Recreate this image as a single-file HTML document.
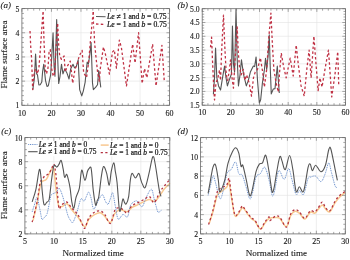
<!DOCTYPE html>
<html><head><meta charset="utf-8"><style>
html,body{margin:0;padding:0;background:#fff;width:350px;height:260px;overflow:hidden}
svg{display:block;will-change:transform;filter:blur(0.3px)}
text{font-family:"Liberation Serif", serif;fill:#1a1a1a;stroke:#1a1a1a;stroke-width:0.12px}
</style></head><body>
<svg width="350" height="260" viewBox="0 0 350 260">
<line x1="51.44" y1="8.6" x2="51.44" y2="105.3" stroke="#e2e2e2" stroke-width="0.6"/>
<line x1="80.98" y1="8.6" x2="80.98" y2="105.3" stroke="#e2e2e2" stroke-width="0.6"/>
<line x1="110.52" y1="8.6" x2="110.52" y2="105.3" stroke="#e2e2e2" stroke-width="0.6"/>
<line x1="140.06" y1="8.6" x2="140.06" y2="105.3" stroke="#e2e2e2" stroke-width="0.6"/>
<line x1="21.9" y1="81.12" x2="169.6" y2="81.12" stroke="#e2e2e2" stroke-width="0.6"/>
<line x1="21.9" y1="56.95" x2="169.6" y2="56.95" stroke="#e2e2e2" stroke-width="0.6"/>
<line x1="21.9" y1="32.77" x2="169.6" y2="32.77" stroke="#e2e2e2" stroke-width="0.6"/>
<polyline points="32.83,89.59 34.45,77.74 35.58,54.05 36.67,73.87 37.47,74.84 38.89,84.99 40.21,84.75 41.78,82.09 42.58,71.94 43.76,64.20 45.53,80.64 47.01,86.44 48.34,85.72 50.64,74.84 51.74,56.95 53.06,32.77 54.10,66.62 54.98,76.29 56.67,19.48 57.64,56.95 58.68,83.54 60.01,76.29 61.48,64.20 62.96,73.87 64.73,69.04 66.80,72.66 69.02,78.95 70.64,69.04 73.00,64.20 74.48,67.83 76.25,66.62 78.17,59.85 79.65,89.59 81.78,95.87 83.34,90.79 85.12,82.33 87.18,62.03 88.37,64.20 89.84,54.53 91.11,42.44 92.50,83.06 93.39,89.59 95.75,87.17 97.52,84.75 98.70,70.49 100.77,87.41" fill="none" stroke="#555555" stroke-width="1.1" stroke-linejoin="round"/>
<polyline points="30.02,31.08 30.76,47.28 31.65,59.37 32.68,89.59 34.01,73.87 35.49,69.04 37.56,73.87 39.03,66.62 40.51,47.28 41.99,25.52 43.11,11.02 44.05,42.44 45.24,69.04 46.42,73.87 47.90,69.04 49.08,52.11 50.26,49.70 51.74,69.04 53.21,76.29 54.39,73.87 56.17,47.28 57.64,23.10 58.68,44.86 59.71,55.98 61.48,59.37 64.14,55.98 65.21,71.94 67.10,66.62 70.23,61.06 72.71,83.30 75.07,69.04 77.14,64.20 79.21,55.98 82.16,50.42 83.64,72.91 86.59,77.50 88.66,61.79 90.73,37.61 93.24,11.02 94.57,42.44 95.75,55.02 97.52,71.45 99.29,81.12 100.36,68.07 103.43,47.04 105.41,54.05 109.43,74.11 112.44,52.11 114.36,49.94 116.43,68.07 119.38,40.03 121.45,48.01 126.47,85.96 132.67,44.14 135.04,62.99 138.58,32.77 142.13,83.54 144.49,68.55 146.85,77.74 152.61,44.14 156.01,85.96 161.92,45.35 164.28,81.12" fill="none" stroke="#c03245" stroke-width="1.3" stroke-dasharray="2.5 2.3" stroke-linejoin="round"/>

<rect x="94.2" y="9.2" width="75" height="20" fill="#fff"/>
<line x1="96" y1="16.5" x2="105.6" y2="16.7" stroke="#555555" stroke-width="1.1"/>
<text x="107" y="19.2" font-size="7.65" style="stroke-width:0.24px"><tspan font-style="italic">Le</tspan> ≠ 1 and <tspan font-style="italic">b</tspan> = 0.75</text>
<line x1="96" y1="24" x2="105.6" y2="24.5" stroke="#c03245" stroke-width="1.3" stroke-dasharray="2.5 2.3"/>
<text x="107" y="26.9" font-size="7.65" style="stroke-width:0.24px"><tspan font-style="italic">Le</tspan> = 1 and <tspan font-style="italic">b</tspan> = 0.75</text>

<line x1="21.90" y1="105.3" x2="21.90" y2="102.1" stroke="#6a6a6a" stroke-width="0.6"/>
<line x1="21.90" y1="8.6" x2="21.90" y2="11.8" stroke="#6a6a6a" stroke-width="0.6"/>
<line x1="27.81" y1="105.3" x2="27.81" y2="103.3" stroke="#6a6a6a" stroke-width="0.6"/>
<line x1="27.81" y1="8.6" x2="27.81" y2="10.6" stroke="#6a6a6a" stroke-width="0.6"/>
<line x1="33.72" y1="105.3" x2="33.72" y2="103.3" stroke="#6a6a6a" stroke-width="0.6"/>
<line x1="33.72" y1="8.6" x2="33.72" y2="10.6" stroke="#6a6a6a" stroke-width="0.6"/>
<line x1="39.62" y1="105.3" x2="39.62" y2="103.3" stroke="#6a6a6a" stroke-width="0.6"/>
<line x1="39.62" y1="8.6" x2="39.62" y2="10.6" stroke="#6a6a6a" stroke-width="0.6"/>
<line x1="45.53" y1="105.3" x2="45.53" y2="103.3" stroke="#6a6a6a" stroke-width="0.6"/>
<line x1="45.53" y1="8.6" x2="45.53" y2="10.6" stroke="#6a6a6a" stroke-width="0.6"/>
<line x1="51.44" y1="105.3" x2="51.44" y2="102.1" stroke="#6a6a6a" stroke-width="0.6"/>
<line x1="51.44" y1="8.6" x2="51.44" y2="11.8" stroke="#6a6a6a" stroke-width="0.6"/>
<line x1="57.35" y1="105.3" x2="57.35" y2="103.3" stroke="#6a6a6a" stroke-width="0.6"/>
<line x1="57.35" y1="8.6" x2="57.35" y2="10.6" stroke="#6a6a6a" stroke-width="0.6"/>
<line x1="63.26" y1="105.3" x2="63.26" y2="103.3" stroke="#6a6a6a" stroke-width="0.6"/>
<line x1="63.26" y1="8.6" x2="63.26" y2="10.6" stroke="#6a6a6a" stroke-width="0.6"/>
<line x1="69.16" y1="105.3" x2="69.16" y2="103.3" stroke="#6a6a6a" stroke-width="0.6"/>
<line x1="69.16" y1="8.6" x2="69.16" y2="10.6" stroke="#6a6a6a" stroke-width="0.6"/>
<line x1="75.07" y1="105.3" x2="75.07" y2="103.3" stroke="#6a6a6a" stroke-width="0.6"/>
<line x1="75.07" y1="8.6" x2="75.07" y2="10.6" stroke="#6a6a6a" stroke-width="0.6"/>
<line x1="80.98" y1="105.3" x2="80.98" y2="102.1" stroke="#6a6a6a" stroke-width="0.6"/>
<line x1="80.98" y1="8.6" x2="80.98" y2="11.8" stroke="#6a6a6a" stroke-width="0.6"/>
<line x1="86.89" y1="105.3" x2="86.89" y2="103.3" stroke="#6a6a6a" stroke-width="0.6"/>
<line x1="86.89" y1="8.6" x2="86.89" y2="10.6" stroke="#6a6a6a" stroke-width="0.6"/>
<line x1="92.80" y1="105.3" x2="92.80" y2="103.3" stroke="#6a6a6a" stroke-width="0.6"/>
<line x1="92.80" y1="8.6" x2="92.80" y2="10.6" stroke="#6a6a6a" stroke-width="0.6"/>
<line x1="98.70" y1="105.3" x2="98.70" y2="103.3" stroke="#6a6a6a" stroke-width="0.6"/>
<line x1="98.70" y1="8.6" x2="98.70" y2="10.6" stroke="#6a6a6a" stroke-width="0.6"/>
<line x1="104.61" y1="105.3" x2="104.61" y2="103.3" stroke="#6a6a6a" stroke-width="0.6"/>
<line x1="104.61" y1="8.6" x2="104.61" y2="10.6" stroke="#6a6a6a" stroke-width="0.6"/>
<line x1="110.52" y1="105.3" x2="110.52" y2="102.1" stroke="#6a6a6a" stroke-width="0.6"/>
<line x1="110.52" y1="8.6" x2="110.52" y2="11.8" stroke="#6a6a6a" stroke-width="0.6"/>
<line x1="116.43" y1="105.3" x2="116.43" y2="103.3" stroke="#6a6a6a" stroke-width="0.6"/>
<line x1="116.43" y1="8.6" x2="116.43" y2="10.6" stroke="#6a6a6a" stroke-width="0.6"/>
<line x1="122.34" y1="105.3" x2="122.34" y2="103.3" stroke="#6a6a6a" stroke-width="0.6"/>
<line x1="122.34" y1="8.6" x2="122.34" y2="10.6" stroke="#6a6a6a" stroke-width="0.6"/>
<line x1="128.24" y1="105.3" x2="128.24" y2="103.3" stroke="#6a6a6a" stroke-width="0.6"/>
<line x1="128.24" y1="8.6" x2="128.24" y2="10.6" stroke="#6a6a6a" stroke-width="0.6"/>
<line x1="134.15" y1="105.3" x2="134.15" y2="103.3" stroke="#6a6a6a" stroke-width="0.6"/>
<line x1="134.15" y1="8.6" x2="134.15" y2="10.6" stroke="#6a6a6a" stroke-width="0.6"/>
<line x1="140.06" y1="105.3" x2="140.06" y2="102.1" stroke="#6a6a6a" stroke-width="0.6"/>
<line x1="140.06" y1="8.6" x2="140.06" y2="11.8" stroke="#6a6a6a" stroke-width="0.6"/>
<line x1="145.97" y1="105.3" x2="145.97" y2="103.3" stroke="#6a6a6a" stroke-width="0.6"/>
<line x1="145.97" y1="8.6" x2="145.97" y2="10.6" stroke="#6a6a6a" stroke-width="0.6"/>
<line x1="151.88" y1="105.3" x2="151.88" y2="103.3" stroke="#6a6a6a" stroke-width="0.6"/>
<line x1="151.88" y1="8.6" x2="151.88" y2="10.6" stroke="#6a6a6a" stroke-width="0.6"/>
<line x1="157.78" y1="105.3" x2="157.78" y2="103.3" stroke="#6a6a6a" stroke-width="0.6"/>
<line x1="157.78" y1="8.6" x2="157.78" y2="10.6" stroke="#6a6a6a" stroke-width="0.6"/>
<line x1="163.69" y1="105.3" x2="163.69" y2="103.3" stroke="#6a6a6a" stroke-width="0.6"/>
<line x1="163.69" y1="8.6" x2="163.69" y2="10.6" stroke="#6a6a6a" stroke-width="0.6"/>
<line x1="169.60" y1="105.3" x2="169.60" y2="102.1" stroke="#6a6a6a" stroke-width="0.6"/>
<line x1="169.60" y1="8.6" x2="169.60" y2="11.8" stroke="#6a6a6a" stroke-width="0.6"/>
<line x1="21.9" y1="105.30" x2="25.099999999999998" y2="105.30" stroke="#6a6a6a" stroke-width="0.6"/>
<line x1="169.6" y1="105.30" x2="166.4" y2="105.30" stroke="#6a6a6a" stroke-width="0.6"/>
<line x1="21.9" y1="100.47" x2="23.9" y2="100.47" stroke="#6a6a6a" stroke-width="0.6"/>
<line x1="169.6" y1="100.47" x2="167.6" y2="100.47" stroke="#6a6a6a" stroke-width="0.6"/>
<line x1="21.9" y1="95.63" x2="23.9" y2="95.63" stroke="#6a6a6a" stroke-width="0.6"/>
<line x1="169.6" y1="95.63" x2="167.6" y2="95.63" stroke="#6a6a6a" stroke-width="0.6"/>
<line x1="21.9" y1="90.79" x2="23.9" y2="90.79" stroke="#6a6a6a" stroke-width="0.6"/>
<line x1="169.6" y1="90.79" x2="167.6" y2="90.79" stroke="#6a6a6a" stroke-width="0.6"/>
<line x1="21.9" y1="85.96" x2="23.9" y2="85.96" stroke="#6a6a6a" stroke-width="0.6"/>
<line x1="169.6" y1="85.96" x2="167.6" y2="85.96" stroke="#6a6a6a" stroke-width="0.6"/>
<line x1="21.9" y1="81.12" x2="25.099999999999998" y2="81.12" stroke="#6a6a6a" stroke-width="0.6"/>
<line x1="169.6" y1="81.12" x2="166.4" y2="81.12" stroke="#6a6a6a" stroke-width="0.6"/>
<line x1="21.9" y1="76.29" x2="23.9" y2="76.29" stroke="#6a6a6a" stroke-width="0.6"/>
<line x1="169.6" y1="76.29" x2="167.6" y2="76.29" stroke="#6a6a6a" stroke-width="0.6"/>
<line x1="21.9" y1="71.45" x2="23.9" y2="71.45" stroke="#6a6a6a" stroke-width="0.6"/>
<line x1="169.6" y1="71.45" x2="167.6" y2="71.45" stroke="#6a6a6a" stroke-width="0.6"/>
<line x1="21.9" y1="66.62" x2="23.9" y2="66.62" stroke="#6a6a6a" stroke-width="0.6"/>
<line x1="169.6" y1="66.62" x2="167.6" y2="66.62" stroke="#6a6a6a" stroke-width="0.6"/>
<line x1="21.9" y1="61.79" x2="23.9" y2="61.79" stroke="#6a6a6a" stroke-width="0.6"/>
<line x1="169.6" y1="61.79" x2="167.6" y2="61.79" stroke="#6a6a6a" stroke-width="0.6"/>
<line x1="21.9" y1="56.95" x2="25.099999999999998" y2="56.95" stroke="#6a6a6a" stroke-width="0.6"/>
<line x1="169.6" y1="56.95" x2="166.4" y2="56.95" stroke="#6a6a6a" stroke-width="0.6"/>
<line x1="21.9" y1="52.11" x2="23.9" y2="52.11" stroke="#6a6a6a" stroke-width="0.6"/>
<line x1="169.6" y1="52.11" x2="167.6" y2="52.11" stroke="#6a6a6a" stroke-width="0.6"/>
<line x1="21.9" y1="47.28" x2="23.9" y2="47.28" stroke="#6a6a6a" stroke-width="0.6"/>
<line x1="169.6" y1="47.28" x2="167.6" y2="47.28" stroke="#6a6a6a" stroke-width="0.6"/>
<line x1="21.9" y1="42.44" x2="23.9" y2="42.44" stroke="#6a6a6a" stroke-width="0.6"/>
<line x1="169.6" y1="42.44" x2="167.6" y2="42.44" stroke="#6a6a6a" stroke-width="0.6"/>
<line x1="21.9" y1="37.61" x2="23.9" y2="37.61" stroke="#6a6a6a" stroke-width="0.6"/>
<line x1="169.6" y1="37.61" x2="167.6" y2="37.61" stroke="#6a6a6a" stroke-width="0.6"/>
<line x1="21.9" y1="32.77" x2="25.099999999999998" y2="32.77" stroke="#6a6a6a" stroke-width="0.6"/>
<line x1="169.6" y1="32.77" x2="166.4" y2="32.77" stroke="#6a6a6a" stroke-width="0.6"/>
<line x1="21.9" y1="27.94" x2="23.9" y2="27.94" stroke="#6a6a6a" stroke-width="0.6"/>
<line x1="169.6" y1="27.94" x2="167.6" y2="27.94" stroke="#6a6a6a" stroke-width="0.6"/>
<line x1="21.9" y1="23.10" x2="23.9" y2="23.10" stroke="#6a6a6a" stroke-width="0.6"/>
<line x1="169.6" y1="23.10" x2="167.6" y2="23.10" stroke="#6a6a6a" stroke-width="0.6"/>
<line x1="21.9" y1="18.27" x2="23.9" y2="18.27" stroke="#6a6a6a" stroke-width="0.6"/>
<line x1="169.6" y1="18.27" x2="167.6" y2="18.27" stroke="#6a6a6a" stroke-width="0.6"/>
<line x1="21.9" y1="13.43" x2="23.9" y2="13.43" stroke="#6a6a6a" stroke-width="0.6"/>
<line x1="169.6" y1="13.43" x2="167.6" y2="13.43" stroke="#6a6a6a" stroke-width="0.6"/>
<line x1="21.9" y1="8.60" x2="25.099999999999998" y2="8.60" stroke="#6a6a6a" stroke-width="0.6"/>
<line x1="169.6" y1="8.60" x2="166.4" y2="8.60" stroke="#6a6a6a" stroke-width="0.6"/>
<rect x="21.9" y="8.6" width="147.70" height="96.70" fill="none" stroke="#6a6a6a" stroke-width="0.8"/>
<text x="21.90" y="115.50" text-anchor="middle" font-size="8.0">10</text>
<text x="51.44" y="115.50" text-anchor="middle" font-size="8.0">20</text>
<text x="80.98" y="115.50" text-anchor="middle" font-size="8.0">30</text>
<text x="110.52" y="115.50" text-anchor="middle" font-size="8.0">40</text>
<text x="140.06" y="115.50" text-anchor="middle" font-size="8.0">50</text>
<text x="169.60" y="115.50" text-anchor="middle" font-size="8.0">60</text>
<text x="19.40" y="108.20" text-anchor="end" font-size="7.7">1</text>
<text x="19.40" y="84.03" text-anchor="end" font-size="7.7">2</text>
<text x="19.40" y="59.85" text-anchor="end" font-size="7.7">3</text>
<text x="19.40" y="35.67" text-anchor="end" font-size="7.7">4</text>
<text x="19.40" y="11.50" text-anchor="end" font-size="7.7">5</text>
<line x1="230.86" y1="8.7" x2="230.86" y2="105.2" stroke="#e2e2e2" stroke-width="0.6"/>
<line x1="259.52" y1="8.7" x2="259.52" y2="105.2" stroke="#e2e2e2" stroke-width="0.6"/>
<line x1="288.18" y1="8.7" x2="288.18" y2="105.2" stroke="#e2e2e2" stroke-width="0.6"/>
<line x1="316.84" y1="8.7" x2="316.84" y2="105.2" stroke="#e2e2e2" stroke-width="0.6"/>
<line x1="202.2" y1="91.41" x2="345.5" y2="91.41" stroke="#e2e2e2" stroke-width="0.6"/>
<line x1="202.2" y1="77.63" x2="345.5" y2="77.63" stroke="#e2e2e2" stroke-width="0.6"/>
<line x1="202.2" y1="63.84" x2="345.5" y2="63.84" stroke="#e2e2e2" stroke-width="0.6"/>
<line x1="202.2" y1="50.06" x2="345.5" y2="50.06" stroke="#e2e2e2" stroke-width="0.6"/>
<line x1="202.2" y1="36.27" x2="345.5" y2="36.27" stroke="#e2e2e2" stroke-width="0.6"/>
<line x1="202.2" y1="22.49" x2="345.5" y2="22.49" stroke="#e2e2e2" stroke-width="0.6"/>
<polyline points="213.38,94.17 214.52,77.63 215.56,48.13 216.82,77.63 218.54,85.90 220.54,90.04 222.55,77.63 224.55,66.05 225.99,77.63 227.42,85.90 229.14,80.39 231.43,74.04 232.46,26.07 233.44,63.84 234.59,72.11 236.02,8.98 237.17,58.33 238.45,85.90 240.03,74.87 241.46,59.71 243.47,74.04 246.34,85.90 248.34,80.39 250.35,72.11 253.36,66.05 254.65,66.60 256.08,56.95 257.51,80.39 259.35,102.99 260.67,99.69 262.39,83.14 264.39,69.91 265.54,58.33 266.69,69.36 268.12,55.57 269.26,34.89 270.12,63.84 271.27,93.90 273.28,88.93 275.00,88.66 277.29,66.05 279.30,93.07" fill="none" stroke="#555555" stroke-width="1.1" stroke-linejoin="round"/>
<polyline points="210.51,47.30 211.57,37.10 212.52,61.09 213.66,85.90 214.52,99.96 215.96,83.14 217.96,77.63 219.54,69.91 220.54,80.39 221.69,50.06 223.49,15.04 224.84,47.30 226.27,74.87 227.71,80.39 229.43,69.36 230.49,59.98 232.01,77.63 233.44,88.11 235.16,58.33 237.17,26.90 238.31,52.81 239.46,66.60 241.18,74.87 243.18,69.36 244.90,80.39 246.62,74.87 249.20,83.14 251.50,96.10 253.50,77.63 255.22,72.11 257.51,69.36 260.38,57.78 262.67,72.11 264.39,87.00 266.69,69.36 268.69,39.03 270.90,13.11 272.42,44.54 273.85,69.36 276.14,83.14 278.29,91.97 279.58,72.11 281.30,53.09 283.59,66.60 286.17,77.90 290.19,58.05 293.20,75.97 296.20,45.09 298.21,63.84 301.08,85.90 304.23,96.10 306.81,69.36 309.10,50.06 311.11,77.90 313.89,36.27 315.98,63.84 318.13,90.59 319.99,77.90 322.00,87.00 325.44,66.60 328.48,50.06 331.74,96.93 334.90,74.87 337.76,51.71 338.76,85.90" fill="none" stroke="#c03245" stroke-width="1.3" stroke-dasharray="2.5 2.3" stroke-linejoin="round"/>

<line x1="202.20" y1="105.2" x2="202.20" y2="102.0" stroke="#6a6a6a" stroke-width="0.6"/>
<line x1="202.20" y1="8.7" x2="202.20" y2="11.899999999999999" stroke="#6a6a6a" stroke-width="0.6"/>
<line x1="207.93" y1="105.2" x2="207.93" y2="103.2" stroke="#6a6a6a" stroke-width="0.6"/>
<line x1="207.93" y1="8.7" x2="207.93" y2="10.7" stroke="#6a6a6a" stroke-width="0.6"/>
<line x1="213.66" y1="105.2" x2="213.66" y2="103.2" stroke="#6a6a6a" stroke-width="0.6"/>
<line x1="213.66" y1="8.7" x2="213.66" y2="10.7" stroke="#6a6a6a" stroke-width="0.6"/>
<line x1="219.40" y1="105.2" x2="219.40" y2="103.2" stroke="#6a6a6a" stroke-width="0.6"/>
<line x1="219.40" y1="8.7" x2="219.40" y2="10.7" stroke="#6a6a6a" stroke-width="0.6"/>
<line x1="225.13" y1="105.2" x2="225.13" y2="103.2" stroke="#6a6a6a" stroke-width="0.6"/>
<line x1="225.13" y1="8.7" x2="225.13" y2="10.7" stroke="#6a6a6a" stroke-width="0.6"/>
<line x1="230.86" y1="105.2" x2="230.86" y2="102.0" stroke="#6a6a6a" stroke-width="0.6"/>
<line x1="230.86" y1="8.7" x2="230.86" y2="11.899999999999999" stroke="#6a6a6a" stroke-width="0.6"/>
<line x1="236.59" y1="105.2" x2="236.59" y2="103.2" stroke="#6a6a6a" stroke-width="0.6"/>
<line x1="236.59" y1="8.7" x2="236.59" y2="10.7" stroke="#6a6a6a" stroke-width="0.6"/>
<line x1="242.32" y1="105.2" x2="242.32" y2="103.2" stroke="#6a6a6a" stroke-width="0.6"/>
<line x1="242.32" y1="8.7" x2="242.32" y2="10.7" stroke="#6a6a6a" stroke-width="0.6"/>
<line x1="248.06" y1="105.2" x2="248.06" y2="103.2" stroke="#6a6a6a" stroke-width="0.6"/>
<line x1="248.06" y1="8.7" x2="248.06" y2="10.7" stroke="#6a6a6a" stroke-width="0.6"/>
<line x1="253.79" y1="105.2" x2="253.79" y2="103.2" stroke="#6a6a6a" stroke-width="0.6"/>
<line x1="253.79" y1="8.7" x2="253.79" y2="10.7" stroke="#6a6a6a" stroke-width="0.6"/>
<line x1="259.52" y1="105.2" x2="259.52" y2="102.0" stroke="#6a6a6a" stroke-width="0.6"/>
<line x1="259.52" y1="8.7" x2="259.52" y2="11.899999999999999" stroke="#6a6a6a" stroke-width="0.6"/>
<line x1="265.25" y1="105.2" x2="265.25" y2="103.2" stroke="#6a6a6a" stroke-width="0.6"/>
<line x1="265.25" y1="8.7" x2="265.25" y2="10.7" stroke="#6a6a6a" stroke-width="0.6"/>
<line x1="270.98" y1="105.2" x2="270.98" y2="103.2" stroke="#6a6a6a" stroke-width="0.6"/>
<line x1="270.98" y1="8.7" x2="270.98" y2="10.7" stroke="#6a6a6a" stroke-width="0.6"/>
<line x1="276.72" y1="105.2" x2="276.72" y2="103.2" stroke="#6a6a6a" stroke-width="0.6"/>
<line x1="276.72" y1="8.7" x2="276.72" y2="10.7" stroke="#6a6a6a" stroke-width="0.6"/>
<line x1="282.45" y1="105.2" x2="282.45" y2="103.2" stroke="#6a6a6a" stroke-width="0.6"/>
<line x1="282.45" y1="8.7" x2="282.45" y2="10.7" stroke="#6a6a6a" stroke-width="0.6"/>
<line x1="288.18" y1="105.2" x2="288.18" y2="102.0" stroke="#6a6a6a" stroke-width="0.6"/>
<line x1="288.18" y1="8.7" x2="288.18" y2="11.899999999999999" stroke="#6a6a6a" stroke-width="0.6"/>
<line x1="293.91" y1="105.2" x2="293.91" y2="103.2" stroke="#6a6a6a" stroke-width="0.6"/>
<line x1="293.91" y1="8.7" x2="293.91" y2="10.7" stroke="#6a6a6a" stroke-width="0.6"/>
<line x1="299.64" y1="105.2" x2="299.64" y2="103.2" stroke="#6a6a6a" stroke-width="0.6"/>
<line x1="299.64" y1="8.7" x2="299.64" y2="10.7" stroke="#6a6a6a" stroke-width="0.6"/>
<line x1="305.38" y1="105.2" x2="305.38" y2="103.2" stroke="#6a6a6a" stroke-width="0.6"/>
<line x1="305.38" y1="8.7" x2="305.38" y2="10.7" stroke="#6a6a6a" stroke-width="0.6"/>
<line x1="311.11" y1="105.2" x2="311.11" y2="103.2" stroke="#6a6a6a" stroke-width="0.6"/>
<line x1="311.11" y1="8.7" x2="311.11" y2="10.7" stroke="#6a6a6a" stroke-width="0.6"/>
<line x1="316.84" y1="105.2" x2="316.84" y2="102.0" stroke="#6a6a6a" stroke-width="0.6"/>
<line x1="316.84" y1="8.7" x2="316.84" y2="11.899999999999999" stroke="#6a6a6a" stroke-width="0.6"/>
<line x1="322.57" y1="105.2" x2="322.57" y2="103.2" stroke="#6a6a6a" stroke-width="0.6"/>
<line x1="322.57" y1="8.7" x2="322.57" y2="10.7" stroke="#6a6a6a" stroke-width="0.6"/>
<line x1="328.30" y1="105.2" x2="328.30" y2="103.2" stroke="#6a6a6a" stroke-width="0.6"/>
<line x1="328.30" y1="8.7" x2="328.30" y2="10.7" stroke="#6a6a6a" stroke-width="0.6"/>
<line x1="334.04" y1="105.2" x2="334.04" y2="103.2" stroke="#6a6a6a" stroke-width="0.6"/>
<line x1="334.04" y1="8.7" x2="334.04" y2="10.7" stroke="#6a6a6a" stroke-width="0.6"/>
<line x1="339.77" y1="105.2" x2="339.77" y2="103.2" stroke="#6a6a6a" stroke-width="0.6"/>
<line x1="339.77" y1="8.7" x2="339.77" y2="10.7" stroke="#6a6a6a" stroke-width="0.6"/>
<line x1="345.50" y1="105.2" x2="345.50" y2="102.0" stroke="#6a6a6a" stroke-width="0.6"/>
<line x1="345.50" y1="8.7" x2="345.50" y2="11.899999999999999" stroke="#6a6a6a" stroke-width="0.6"/>
<line x1="202.2" y1="105.20" x2="205.39999999999998" y2="105.20" stroke="#6a6a6a" stroke-width="0.6"/>
<line x1="345.5" y1="105.20" x2="342.3" y2="105.20" stroke="#6a6a6a" stroke-width="0.6"/>
<line x1="202.2" y1="102.44" x2="204.2" y2="102.44" stroke="#6a6a6a" stroke-width="0.6"/>
<line x1="345.5" y1="102.44" x2="343.5" y2="102.44" stroke="#6a6a6a" stroke-width="0.6"/>
<line x1="202.2" y1="99.69" x2="204.2" y2="99.69" stroke="#6a6a6a" stroke-width="0.6"/>
<line x1="345.5" y1="99.69" x2="343.5" y2="99.69" stroke="#6a6a6a" stroke-width="0.6"/>
<line x1="202.2" y1="96.93" x2="204.2" y2="96.93" stroke="#6a6a6a" stroke-width="0.6"/>
<line x1="345.5" y1="96.93" x2="343.5" y2="96.93" stroke="#6a6a6a" stroke-width="0.6"/>
<line x1="202.2" y1="94.17" x2="204.2" y2="94.17" stroke="#6a6a6a" stroke-width="0.6"/>
<line x1="345.5" y1="94.17" x2="343.5" y2="94.17" stroke="#6a6a6a" stroke-width="0.6"/>
<line x1="202.2" y1="91.41" x2="205.39999999999998" y2="91.41" stroke="#6a6a6a" stroke-width="0.6"/>
<line x1="345.5" y1="91.41" x2="342.3" y2="91.41" stroke="#6a6a6a" stroke-width="0.6"/>
<line x1="202.2" y1="88.66" x2="204.2" y2="88.66" stroke="#6a6a6a" stroke-width="0.6"/>
<line x1="345.5" y1="88.66" x2="343.5" y2="88.66" stroke="#6a6a6a" stroke-width="0.6"/>
<line x1="202.2" y1="85.90" x2="204.2" y2="85.90" stroke="#6a6a6a" stroke-width="0.6"/>
<line x1="345.5" y1="85.90" x2="343.5" y2="85.90" stroke="#6a6a6a" stroke-width="0.6"/>
<line x1="202.2" y1="83.14" x2="204.2" y2="83.14" stroke="#6a6a6a" stroke-width="0.6"/>
<line x1="345.5" y1="83.14" x2="343.5" y2="83.14" stroke="#6a6a6a" stroke-width="0.6"/>
<line x1="202.2" y1="80.39" x2="204.2" y2="80.39" stroke="#6a6a6a" stroke-width="0.6"/>
<line x1="345.5" y1="80.39" x2="343.5" y2="80.39" stroke="#6a6a6a" stroke-width="0.6"/>
<line x1="202.2" y1="77.63" x2="205.39999999999998" y2="77.63" stroke="#6a6a6a" stroke-width="0.6"/>
<line x1="345.5" y1="77.63" x2="342.3" y2="77.63" stroke="#6a6a6a" stroke-width="0.6"/>
<line x1="202.2" y1="74.87" x2="204.2" y2="74.87" stroke="#6a6a6a" stroke-width="0.6"/>
<line x1="345.5" y1="74.87" x2="343.5" y2="74.87" stroke="#6a6a6a" stroke-width="0.6"/>
<line x1="202.2" y1="72.11" x2="204.2" y2="72.11" stroke="#6a6a6a" stroke-width="0.6"/>
<line x1="345.5" y1="72.11" x2="343.5" y2="72.11" stroke="#6a6a6a" stroke-width="0.6"/>
<line x1="202.2" y1="69.36" x2="204.2" y2="69.36" stroke="#6a6a6a" stroke-width="0.6"/>
<line x1="345.5" y1="69.36" x2="343.5" y2="69.36" stroke="#6a6a6a" stroke-width="0.6"/>
<line x1="202.2" y1="66.60" x2="204.2" y2="66.60" stroke="#6a6a6a" stroke-width="0.6"/>
<line x1="345.5" y1="66.60" x2="343.5" y2="66.60" stroke="#6a6a6a" stroke-width="0.6"/>
<line x1="202.2" y1="63.84" x2="205.39999999999998" y2="63.84" stroke="#6a6a6a" stroke-width="0.6"/>
<line x1="345.5" y1="63.84" x2="342.3" y2="63.84" stroke="#6a6a6a" stroke-width="0.6"/>
<line x1="202.2" y1="61.09" x2="204.2" y2="61.09" stroke="#6a6a6a" stroke-width="0.6"/>
<line x1="345.5" y1="61.09" x2="343.5" y2="61.09" stroke="#6a6a6a" stroke-width="0.6"/>
<line x1="202.2" y1="58.33" x2="204.2" y2="58.33" stroke="#6a6a6a" stroke-width="0.6"/>
<line x1="345.5" y1="58.33" x2="343.5" y2="58.33" stroke="#6a6a6a" stroke-width="0.6"/>
<line x1="202.2" y1="55.57" x2="204.2" y2="55.57" stroke="#6a6a6a" stroke-width="0.6"/>
<line x1="345.5" y1="55.57" x2="343.5" y2="55.57" stroke="#6a6a6a" stroke-width="0.6"/>
<line x1="202.2" y1="52.81" x2="204.2" y2="52.81" stroke="#6a6a6a" stroke-width="0.6"/>
<line x1="345.5" y1="52.81" x2="343.5" y2="52.81" stroke="#6a6a6a" stroke-width="0.6"/>
<line x1="202.2" y1="50.06" x2="205.39999999999998" y2="50.06" stroke="#6a6a6a" stroke-width="0.6"/>
<line x1="345.5" y1="50.06" x2="342.3" y2="50.06" stroke="#6a6a6a" stroke-width="0.6"/>
<line x1="202.2" y1="47.30" x2="204.2" y2="47.30" stroke="#6a6a6a" stroke-width="0.6"/>
<line x1="345.5" y1="47.30" x2="343.5" y2="47.30" stroke="#6a6a6a" stroke-width="0.6"/>
<line x1="202.2" y1="44.54" x2="204.2" y2="44.54" stroke="#6a6a6a" stroke-width="0.6"/>
<line x1="345.5" y1="44.54" x2="343.5" y2="44.54" stroke="#6a6a6a" stroke-width="0.6"/>
<line x1="202.2" y1="41.79" x2="204.2" y2="41.79" stroke="#6a6a6a" stroke-width="0.6"/>
<line x1="345.5" y1="41.79" x2="343.5" y2="41.79" stroke="#6a6a6a" stroke-width="0.6"/>
<line x1="202.2" y1="39.03" x2="204.2" y2="39.03" stroke="#6a6a6a" stroke-width="0.6"/>
<line x1="345.5" y1="39.03" x2="343.5" y2="39.03" stroke="#6a6a6a" stroke-width="0.6"/>
<line x1="202.2" y1="36.27" x2="205.39999999999998" y2="36.27" stroke="#6a6a6a" stroke-width="0.6"/>
<line x1="345.5" y1="36.27" x2="342.3" y2="36.27" stroke="#6a6a6a" stroke-width="0.6"/>
<line x1="202.2" y1="33.51" x2="204.2" y2="33.51" stroke="#6a6a6a" stroke-width="0.6"/>
<line x1="345.5" y1="33.51" x2="343.5" y2="33.51" stroke="#6a6a6a" stroke-width="0.6"/>
<line x1="202.2" y1="30.76" x2="204.2" y2="30.76" stroke="#6a6a6a" stroke-width="0.6"/>
<line x1="345.5" y1="30.76" x2="343.5" y2="30.76" stroke="#6a6a6a" stroke-width="0.6"/>
<line x1="202.2" y1="28.00" x2="204.2" y2="28.00" stroke="#6a6a6a" stroke-width="0.6"/>
<line x1="345.5" y1="28.00" x2="343.5" y2="28.00" stroke="#6a6a6a" stroke-width="0.6"/>
<line x1="202.2" y1="25.24" x2="204.2" y2="25.24" stroke="#6a6a6a" stroke-width="0.6"/>
<line x1="345.5" y1="25.24" x2="343.5" y2="25.24" stroke="#6a6a6a" stroke-width="0.6"/>
<line x1="202.2" y1="22.49" x2="205.39999999999998" y2="22.49" stroke="#6a6a6a" stroke-width="0.6"/>
<line x1="345.5" y1="22.49" x2="342.3" y2="22.49" stroke="#6a6a6a" stroke-width="0.6"/>
<line x1="202.2" y1="19.73" x2="204.2" y2="19.73" stroke="#6a6a6a" stroke-width="0.6"/>
<line x1="345.5" y1="19.73" x2="343.5" y2="19.73" stroke="#6a6a6a" stroke-width="0.6"/>
<line x1="202.2" y1="16.97" x2="204.2" y2="16.97" stroke="#6a6a6a" stroke-width="0.6"/>
<line x1="345.5" y1="16.97" x2="343.5" y2="16.97" stroke="#6a6a6a" stroke-width="0.6"/>
<line x1="202.2" y1="14.21" x2="204.2" y2="14.21" stroke="#6a6a6a" stroke-width="0.6"/>
<line x1="345.5" y1="14.21" x2="343.5" y2="14.21" stroke="#6a6a6a" stroke-width="0.6"/>
<line x1="202.2" y1="11.46" x2="204.2" y2="11.46" stroke="#6a6a6a" stroke-width="0.6"/>
<line x1="345.5" y1="11.46" x2="343.5" y2="11.46" stroke="#6a6a6a" stroke-width="0.6"/>
<line x1="202.2" y1="8.70" x2="205.39999999999998" y2="8.70" stroke="#6a6a6a" stroke-width="0.6"/>
<line x1="345.5" y1="8.70" x2="342.3" y2="8.70" stroke="#6a6a6a" stroke-width="0.6"/>
<rect x="202.2" y="8.7" width="143.30" height="96.50" fill="none" stroke="#6a6a6a" stroke-width="0.8"/>
<text x="202.20" y="115.40" text-anchor="middle" font-size="8.0">10</text>
<text x="230.86" y="115.40" text-anchor="middle" font-size="8.0">20</text>
<text x="259.52" y="115.40" text-anchor="middle" font-size="8.0">30</text>
<text x="288.18" y="115.40" text-anchor="middle" font-size="8.0">40</text>
<text x="316.84" y="115.40" text-anchor="middle" font-size="8.0">50</text>
<text x="345.50" y="115.40" text-anchor="middle" font-size="8.0">60</text>
<text x="199.70" y="108.10" text-anchor="end" font-size="7.7">1.5</text>
<text x="199.70" y="94.31" text-anchor="end" font-size="7.7">2.0</text>
<text x="199.70" y="80.53" text-anchor="end" font-size="7.7">2.5</text>
<text x="199.70" y="66.74" text-anchor="end" font-size="7.7">3.0</text>
<text x="199.70" y="52.96" text-anchor="end" font-size="7.7">3.5</text>
<text x="199.70" y="39.17" text-anchor="end" font-size="7.7">4.0</text>
<text x="199.70" y="25.39" text-anchor="end" font-size="7.7">4.5</text>
<text x="199.70" y="11.60" text-anchor="end" font-size="7.7">5.0</text>
<line x1="53.88" y1="137.6" x2="53.88" y2="233.9" stroke="#e2e2e2" stroke-width="0.6"/>
<line x1="82.86" y1="137.6" x2="82.86" y2="233.9" stroke="#e2e2e2" stroke-width="0.6"/>
<line x1="111.84" y1="137.6" x2="111.84" y2="233.9" stroke="#e2e2e2" stroke-width="0.6"/>
<line x1="140.82" y1="137.6" x2="140.82" y2="233.9" stroke="#e2e2e2" stroke-width="0.6"/>
<line x1="24.9" y1="209.82" x2="169.8" y2="209.82" stroke="#e2e2e2" stroke-width="0.6"/>
<line x1="24.9" y1="185.75" x2="169.8" y2="185.75" stroke="#e2e2e2" stroke-width="0.6"/>
<line x1="24.9" y1="161.68" x2="169.8" y2="161.68" stroke="#e2e2e2" stroke-width="0.6"/>
<path d="M33.01,220.66 C33.69,217.75 35.75,209.42 37.07,203.20 C38.40,196.99 39.41,187.31 40.95,183.34 C42.50,179.37 44.73,181.48 46.35,179.37 C47.96,177.26 49.57,172.65 50.63,170.70 C51.70,168.76 52.18,167.79 52.72,167.69 C53.26,167.59 53.51,168.16 53.88,170.10 C54.25,172.05 54.44,175.16 54.92,179.37 C55.41,183.58 56.11,190.91 56.78,195.38 C57.44,199.85 57.96,204.41 58.92,206.21 C59.89,208.02 61.24,206.62 62.57,206.21 C63.91,205.81 65.38,203.20 66.92,203.81 C68.47,204.41 70.35,208.02 71.85,209.82 C73.34,211.63 74.75,213.24 75.90,214.64 C77.06,216.04 77.31,216.25 78.80,218.25 C80.30,220.26 83.25,226.48 84.89,226.68 C86.53,226.88 87.06,221.46 88.66,219.46 C90.25,217.45 92.52,215.74 94.45,214.64 C96.38,213.54 98.51,212.53 100.25,212.83 C101.99,213.14 103.19,214.84 104.88,216.45 C106.58,218.05 108.75,222.97 110.39,222.46 C112.03,221.96 113.05,215.54 114.74,213.44 C116.43,211.33 118.51,210.13 120.53,209.82 C122.56,209.52 124.98,212.03 126.91,211.63 C128.84,211.23 130.19,208.62 132.13,207.42 C134.06,206.21 136.47,205.41 138.50,204.41 C140.53,203.40 142.46,202.20 144.30,201.40 C146.13,200.60 147.78,199.59 149.51,199.59 C151.25,199.59 152.99,202.10 154.73,201.40 C156.47,200.70 158.40,197.39 159.95,195.38 C161.49,193.37 162.56,191.17 164.00,189.36 C165.45,187.56 167.67,185.55 168.64,184.55 C169.61,183.54 169.61,183.54 169.80,183.34" fill="none" stroke="#f8c890" stroke-width="1.5" stroke-linejoin="round" stroke-linecap="butt"/>
<path d="M32.14,211.99 C32.58,210.63 33.93,206.17 34.75,203.81 C35.57,201.44 36.20,196.78 37.07,197.79 C37.94,198.79 39.15,206.25 39.97,209.82 C40.79,213.40 41.23,218.01 42.00,219.21 C42.77,220.42 43.79,217.89 44.61,217.05 C45.43,216.20 46.15,216.37 46.92,214.16 C47.70,211.95 48.57,206.94 49.24,203.81 C49.92,200.68 50.21,197.13 50.98,195.38 C51.75,193.63 52.91,193.94 53.88,193.33 C54.85,192.73 55.91,192.63 56.78,191.77 C57.65,190.91 58.23,187.76 59.10,188.16 C59.97,188.56 61.03,191.51 61.99,194.18 C62.96,196.84 63.93,200.68 64.89,204.17 C65.86,207.66 66.82,212.37 67.79,215.12 C68.76,217.87 69.82,219.48 70.69,220.66 C71.56,221.84 71.97,223.63 73.01,222.22 C74.04,220.82 75.58,216.08 76.89,212.23 C78.20,208.38 79.70,200.96 80.89,199.11 C82.08,197.27 83.11,201.58 84.02,201.16 C84.93,200.74 85.56,198.09 86.34,196.58 C87.11,195.08 87.88,191.93 88.66,192.13 C89.43,192.33 90.20,195.04 90.97,197.79 C91.75,200.54 92.52,207.18 93.29,208.62 C94.07,210.07 94.65,208.06 95.61,206.45 C96.58,204.85 97.93,200.94 99.09,198.99 C100.25,197.05 101.50,194.38 102.57,194.78 C103.63,195.18 104.54,199.83 105.46,201.40 C106.39,202.96 107.26,204.77 108.13,204.17 C109.00,203.57 109.92,199.69 110.68,197.79 C111.44,195.88 111.94,191.33 112.71,192.73 C113.48,194.14 114.40,201.82 115.32,206.21 C116.24,210.61 116.96,217.71 118.22,219.09 C119.47,220.48 121.31,214.90 122.85,214.52 C124.40,214.14 126.33,217.99 127.49,216.81 C128.65,215.62 129.03,209.70 129.81,207.42 C130.58,205.13 130.99,204.19 132.13,203.08 C133.27,201.98 135.49,200.68 136.65,200.80 C137.81,200.92 138.12,202.86 139.08,203.81 C140.04,204.75 141.13,207.66 142.38,206.45 C143.64,205.25 145.11,199.45 146.62,196.58 C148.12,193.71 150.17,188.84 151.43,189.24 C152.68,189.64 153.41,196.28 154.15,198.99 C154.89,201.70 155.21,203.28 155.89,205.49 C156.57,207.70 157.24,211.51 158.21,212.23 C159.17,212.95 161.11,210.23 161.69,209.82" fill="none" stroke="#6088c8" stroke-width="0.95" stroke-dasharray="1.0 0.8" stroke-linejoin="round" stroke-linecap="butt"/>
<path d="M32.14,222.22 C32.97,218.87 35.77,208.60 37.07,202.12 C38.38,195.64 39.10,187.07 39.97,183.34 C40.84,179.61 41.52,180.94 42.29,179.73 C43.06,178.53 43.54,177.12 44.61,176.12 C45.67,175.12 47.50,174.92 48.66,173.71 C49.82,172.51 50.69,170.50 51.56,168.90 C52.43,167.29 53.15,163.08 53.88,164.08 C54.61,165.09 55.39,170.30 55.97,174.92 C56.55,179.53 56.86,186.23 57.36,191.77 C57.85,197.31 58.34,205.73 58.92,208.14 C59.50,210.55 60.23,206.88 60.84,206.21 C61.44,205.55 61.56,204.85 62.57,204.17 C63.59,203.49 65.38,201.46 66.92,202.12 C68.47,202.78 70.35,206.45 71.85,208.14 C73.34,209.82 74.75,210.89 75.90,212.23 C77.06,213.58 77.74,214.20 78.80,216.20 C79.87,218.21 81.27,222.26 82.28,224.27 C83.29,226.28 83.83,229.25 84.89,228.24 C85.95,227.24 87.06,220.92 88.66,218.25 C90.25,215.58 92.52,213.44 94.45,212.23 C96.38,211.03 98.51,210.63 100.25,211.03 C101.99,211.43 103.19,212.55 104.88,214.64 C106.58,216.73 108.70,224.35 110.39,223.55 C112.08,222.75 113.53,212.41 115.03,209.82 C116.53,207.24 117.97,208.02 119.37,208.02 C120.78,208.02 122.15,208.96 123.43,209.82 C124.72,210.69 125.73,213.80 127.08,213.20 C128.44,212.59 129.74,207.98 131.55,206.21 C133.35,204.45 135.80,203.75 137.92,202.60 C140.05,201.46 142.37,200.36 144.30,199.35 C146.23,198.35 147.87,196.04 149.51,196.58 C151.16,197.13 152.41,203.41 154.15,202.60 C155.89,201.80 158.30,194.48 159.95,191.77 C161.59,189.06 162.56,188.16 164.00,186.35 C165.45,184.55 167.67,182.04 168.64,180.94 C169.61,179.83 169.61,179.93 169.80,179.73" fill="none" stroke="#b3303f" stroke-width="1.25" stroke-dasharray="2.2 2.4" stroke-linejoin="round" stroke-linecap="butt"/>
<path d="M32.14,201.88 C32.77,199.79 34.70,194.76 35.91,189.36 C37.12,183.96 38.52,171.30 39.39,169.50 C40.26,167.69 40.65,174.82 41.13,178.53 C41.61,182.24 41.80,187.46 42.29,191.77 C42.77,196.08 43.25,202.68 44.03,204.41 C44.80,206.13 46.06,203.02 46.92,202.12 C47.79,201.22 48.47,202.72 49.24,198.99 C50.02,195.26 50.79,185.25 51.56,179.73 C52.33,174.21 53.01,167.99 53.88,165.89 C54.75,163.78 55.91,167.39 56.78,167.09 C57.65,166.79 58.37,165.19 59.10,164.08 C59.82,162.98 60.45,159.67 61.12,160.47 C61.80,161.27 62.57,166.09 63.15,168.90 C63.73,171.71 64.02,176.42 64.60,177.32 C65.18,178.23 66.00,173.91 66.63,174.31 C67.26,174.72 67.79,177.42 68.37,179.73 C68.95,182.04 69.53,184.43 70.11,188.16 C70.69,191.89 71.22,198.79 71.85,202.12 C72.48,205.45 73.20,208.86 73.88,208.14 C74.55,207.42 74.99,201.14 75.90,197.79 C76.82,194.44 78.42,192.65 79.38,188.04 C80.35,183.42 80.78,171.39 81.70,170.10 C82.62,168.82 83.92,180.13 84.89,180.33 C85.85,180.53 86.77,173.31 87.50,171.31 C88.22,169.30 88.66,168.90 89.24,168.30 C89.82,167.69 90.49,166.19 90.97,167.69 C91.46,169.20 91.75,173.51 92.13,177.32 C92.52,181.14 92.71,185.95 93.29,190.56 C93.87,195.18 94.94,203.41 95.61,205.01 C96.29,206.61 96.82,201.60 97.35,200.19 C97.88,198.79 98.12,200.60 98.80,196.58 C99.48,192.57 100.62,181.14 101.41,176.12 C102.20,171.10 102.68,166.99 103.55,166.49 C104.42,165.99 105.68,170.00 106.62,173.11 C107.57,176.22 108.46,185.45 109.23,185.15 C110.00,184.85 110.50,175.02 111.26,171.31 C112.02,167.59 113.13,162.88 113.81,162.88 C114.49,162.88 114.78,168.03 115.32,171.31 C115.86,174.58 116.38,176.08 117.06,182.50 C117.73,188.92 118.70,205.67 119.37,209.82 C120.05,213.98 120.53,209.22 121.11,207.42 C121.69,205.61 122.27,199.79 122.85,198.99 C123.43,198.19 124.01,201.80 124.59,202.60 C125.17,203.41 125.65,204.81 126.33,203.81 C127.01,202.80 127.97,200.60 128.65,196.58 C129.32,192.57 129.81,183.60 130.39,179.73 C130.97,175.86 131.28,173.65 132.13,173.35 C132.98,173.05 134.38,177.93 135.49,177.93 C136.60,177.93 137.90,173.05 138.79,173.35 C139.68,173.65 140.22,177.97 140.82,179.73 C141.42,181.50 141.66,182.64 142.38,183.94 C143.11,185.25 144.08,189.26 145.17,187.56 C146.26,185.85 147.87,178.13 148.93,173.71 C150.00,169.30 150.79,163.98 151.54,161.07 C152.30,158.16 152.78,155.36 153.46,156.26 C154.13,157.16 154.90,162.58 155.60,166.49 C156.30,170.40 157.00,175.72 157.63,179.73 C158.26,183.74 158.82,187.80 159.37,190.56 C159.92,193.33 160.67,195.38 160.93,196.34" fill="none" stroke="#555555" stroke-width="1.1" stroke-linejoin="round" stroke-linecap="butt"/>

<rect x="25.5" y="138.2" width="144" height="18" fill="#fff"/>
<line x1="28.2" y1="144.5" x2="37.6" y2="144.5" stroke="#6088c8" stroke-width="0.95" stroke-dasharray="1.0 0.8"/>
<text x="38.7" y="147.1" font-size="7.4" style="stroke-width:0.24px"><tspan font-style="italic">Le</tspan> ≠ 1 and <tspan font-style="italic">b</tspan> = 0</text>
<line x1="28.2" y1="151.7" x2="37.6" y2="151.7" stroke="#555555" stroke-width="1.1"/>
<text x="38.7" y="154.3" font-size="7.4" style="stroke-width:0.24px"><tspan font-style="italic">Le</tspan> ≠ 1 and <tspan font-style="italic">b</tspan> = 0.75</text>
<line x1="100.7" y1="145.1" x2="108.7" y2="145.1" stroke="#f8c890" stroke-width="1.5"/>
<text x="109.9" y="147.7" font-size="7.4" style="stroke-width:0.24px"><tspan font-style="italic">Le</tspan> = 1 and <tspan font-style="italic">b</tspan> = 0</text>
<line x1="100.7" y1="152.5" x2="108.7" y2="152.5" stroke="#b3303f" stroke-width="1.25" stroke-dasharray="2.2 2.4"/>
<text x="109.9" y="155.1" font-size="7.4" style="stroke-width:0.24px"><tspan font-style="italic">Le</tspan> = 1 and <tspan font-style="italic">b</tspan> = 0.75</text>

<line x1="24.90" y1="233.9" x2="24.90" y2="230.70000000000002" stroke="#6a6a6a" stroke-width="0.6"/>
<line x1="24.90" y1="137.6" x2="24.90" y2="140.79999999999998" stroke="#6a6a6a" stroke-width="0.6"/>
<line x1="30.70" y1="233.9" x2="30.70" y2="231.9" stroke="#6a6a6a" stroke-width="0.6"/>
<line x1="30.70" y1="137.6" x2="30.70" y2="139.6" stroke="#6a6a6a" stroke-width="0.6"/>
<line x1="36.49" y1="233.9" x2="36.49" y2="231.9" stroke="#6a6a6a" stroke-width="0.6"/>
<line x1="36.49" y1="137.6" x2="36.49" y2="139.6" stroke="#6a6a6a" stroke-width="0.6"/>
<line x1="42.29" y1="233.9" x2="42.29" y2="231.9" stroke="#6a6a6a" stroke-width="0.6"/>
<line x1="42.29" y1="137.6" x2="42.29" y2="139.6" stroke="#6a6a6a" stroke-width="0.6"/>
<line x1="48.08" y1="233.9" x2="48.08" y2="231.9" stroke="#6a6a6a" stroke-width="0.6"/>
<line x1="48.08" y1="137.6" x2="48.08" y2="139.6" stroke="#6a6a6a" stroke-width="0.6"/>
<line x1="53.88" y1="233.9" x2="53.88" y2="230.70000000000002" stroke="#6a6a6a" stroke-width="0.6"/>
<line x1="53.88" y1="137.6" x2="53.88" y2="140.79999999999998" stroke="#6a6a6a" stroke-width="0.6"/>
<line x1="59.68" y1="233.9" x2="59.68" y2="231.9" stroke="#6a6a6a" stroke-width="0.6"/>
<line x1="59.68" y1="137.6" x2="59.68" y2="139.6" stroke="#6a6a6a" stroke-width="0.6"/>
<line x1="65.47" y1="233.9" x2="65.47" y2="231.9" stroke="#6a6a6a" stroke-width="0.6"/>
<line x1="65.47" y1="137.6" x2="65.47" y2="139.6" stroke="#6a6a6a" stroke-width="0.6"/>
<line x1="71.27" y1="233.9" x2="71.27" y2="231.9" stroke="#6a6a6a" stroke-width="0.6"/>
<line x1="71.27" y1="137.6" x2="71.27" y2="139.6" stroke="#6a6a6a" stroke-width="0.6"/>
<line x1="77.06" y1="233.9" x2="77.06" y2="231.9" stroke="#6a6a6a" stroke-width="0.6"/>
<line x1="77.06" y1="137.6" x2="77.06" y2="139.6" stroke="#6a6a6a" stroke-width="0.6"/>
<line x1="82.86" y1="233.9" x2="82.86" y2="230.70000000000002" stroke="#6a6a6a" stroke-width="0.6"/>
<line x1="82.86" y1="137.6" x2="82.86" y2="140.79999999999998" stroke="#6a6a6a" stroke-width="0.6"/>
<line x1="88.66" y1="233.9" x2="88.66" y2="231.9" stroke="#6a6a6a" stroke-width="0.6"/>
<line x1="88.66" y1="137.6" x2="88.66" y2="139.6" stroke="#6a6a6a" stroke-width="0.6"/>
<line x1="94.45" y1="233.9" x2="94.45" y2="231.9" stroke="#6a6a6a" stroke-width="0.6"/>
<line x1="94.45" y1="137.6" x2="94.45" y2="139.6" stroke="#6a6a6a" stroke-width="0.6"/>
<line x1="100.25" y1="233.9" x2="100.25" y2="231.9" stroke="#6a6a6a" stroke-width="0.6"/>
<line x1="100.25" y1="137.6" x2="100.25" y2="139.6" stroke="#6a6a6a" stroke-width="0.6"/>
<line x1="106.04" y1="233.9" x2="106.04" y2="231.9" stroke="#6a6a6a" stroke-width="0.6"/>
<line x1="106.04" y1="137.6" x2="106.04" y2="139.6" stroke="#6a6a6a" stroke-width="0.6"/>
<line x1="111.84" y1="233.9" x2="111.84" y2="230.70000000000002" stroke="#6a6a6a" stroke-width="0.6"/>
<line x1="111.84" y1="137.6" x2="111.84" y2="140.79999999999998" stroke="#6a6a6a" stroke-width="0.6"/>
<line x1="117.64" y1="233.9" x2="117.64" y2="231.9" stroke="#6a6a6a" stroke-width="0.6"/>
<line x1="117.64" y1="137.6" x2="117.64" y2="139.6" stroke="#6a6a6a" stroke-width="0.6"/>
<line x1="123.43" y1="233.9" x2="123.43" y2="231.9" stroke="#6a6a6a" stroke-width="0.6"/>
<line x1="123.43" y1="137.6" x2="123.43" y2="139.6" stroke="#6a6a6a" stroke-width="0.6"/>
<line x1="129.23" y1="233.9" x2="129.23" y2="231.9" stroke="#6a6a6a" stroke-width="0.6"/>
<line x1="129.23" y1="137.6" x2="129.23" y2="139.6" stroke="#6a6a6a" stroke-width="0.6"/>
<line x1="135.02" y1="233.9" x2="135.02" y2="231.9" stroke="#6a6a6a" stroke-width="0.6"/>
<line x1="135.02" y1="137.6" x2="135.02" y2="139.6" stroke="#6a6a6a" stroke-width="0.6"/>
<line x1="140.82" y1="233.9" x2="140.82" y2="230.70000000000002" stroke="#6a6a6a" stroke-width="0.6"/>
<line x1="140.82" y1="137.6" x2="140.82" y2="140.79999999999998" stroke="#6a6a6a" stroke-width="0.6"/>
<line x1="146.62" y1="233.9" x2="146.62" y2="231.9" stroke="#6a6a6a" stroke-width="0.6"/>
<line x1="146.62" y1="137.6" x2="146.62" y2="139.6" stroke="#6a6a6a" stroke-width="0.6"/>
<line x1="152.41" y1="233.9" x2="152.41" y2="231.9" stroke="#6a6a6a" stroke-width="0.6"/>
<line x1="152.41" y1="137.6" x2="152.41" y2="139.6" stroke="#6a6a6a" stroke-width="0.6"/>
<line x1="158.21" y1="233.9" x2="158.21" y2="231.9" stroke="#6a6a6a" stroke-width="0.6"/>
<line x1="158.21" y1="137.6" x2="158.21" y2="139.6" stroke="#6a6a6a" stroke-width="0.6"/>
<line x1="164.00" y1="233.9" x2="164.00" y2="231.9" stroke="#6a6a6a" stroke-width="0.6"/>
<line x1="164.00" y1="137.6" x2="164.00" y2="139.6" stroke="#6a6a6a" stroke-width="0.6"/>
<line x1="169.80" y1="233.9" x2="169.80" y2="230.70000000000002" stroke="#6a6a6a" stroke-width="0.6"/>
<line x1="169.80" y1="137.6" x2="169.80" y2="140.79999999999998" stroke="#6a6a6a" stroke-width="0.6"/>
<line x1="24.9" y1="233.90" x2="28.099999999999998" y2="233.90" stroke="#6a6a6a" stroke-width="0.6"/>
<line x1="169.8" y1="233.90" x2="166.60000000000002" y2="233.90" stroke="#6a6a6a" stroke-width="0.6"/>
<line x1="24.9" y1="227.88" x2="26.9" y2="227.88" stroke="#6a6a6a" stroke-width="0.6"/>
<line x1="169.8" y1="227.88" x2="167.8" y2="227.88" stroke="#6a6a6a" stroke-width="0.6"/>
<line x1="24.9" y1="221.86" x2="26.9" y2="221.86" stroke="#6a6a6a" stroke-width="0.6"/>
<line x1="169.8" y1="221.86" x2="167.8" y2="221.86" stroke="#6a6a6a" stroke-width="0.6"/>
<line x1="24.9" y1="215.84" x2="26.9" y2="215.84" stroke="#6a6a6a" stroke-width="0.6"/>
<line x1="169.8" y1="215.84" x2="167.8" y2="215.84" stroke="#6a6a6a" stroke-width="0.6"/>
<line x1="24.9" y1="209.82" x2="28.099999999999998" y2="209.82" stroke="#6a6a6a" stroke-width="0.6"/>
<line x1="169.8" y1="209.82" x2="166.60000000000002" y2="209.82" stroke="#6a6a6a" stroke-width="0.6"/>
<line x1="24.9" y1="203.81" x2="26.9" y2="203.81" stroke="#6a6a6a" stroke-width="0.6"/>
<line x1="169.8" y1="203.81" x2="167.8" y2="203.81" stroke="#6a6a6a" stroke-width="0.6"/>
<line x1="24.9" y1="197.79" x2="26.9" y2="197.79" stroke="#6a6a6a" stroke-width="0.6"/>
<line x1="169.8" y1="197.79" x2="167.8" y2="197.79" stroke="#6a6a6a" stroke-width="0.6"/>
<line x1="24.9" y1="191.77" x2="26.9" y2="191.77" stroke="#6a6a6a" stroke-width="0.6"/>
<line x1="169.8" y1="191.77" x2="167.8" y2="191.77" stroke="#6a6a6a" stroke-width="0.6"/>
<line x1="24.9" y1="185.75" x2="28.099999999999998" y2="185.75" stroke="#6a6a6a" stroke-width="0.6"/>
<line x1="169.8" y1="185.75" x2="166.60000000000002" y2="185.75" stroke="#6a6a6a" stroke-width="0.6"/>
<line x1="24.9" y1="179.73" x2="26.9" y2="179.73" stroke="#6a6a6a" stroke-width="0.6"/>
<line x1="169.8" y1="179.73" x2="167.8" y2="179.73" stroke="#6a6a6a" stroke-width="0.6"/>
<line x1="24.9" y1="173.71" x2="26.9" y2="173.71" stroke="#6a6a6a" stroke-width="0.6"/>
<line x1="169.8" y1="173.71" x2="167.8" y2="173.71" stroke="#6a6a6a" stroke-width="0.6"/>
<line x1="24.9" y1="167.69" x2="26.9" y2="167.69" stroke="#6a6a6a" stroke-width="0.6"/>
<line x1="169.8" y1="167.69" x2="167.8" y2="167.69" stroke="#6a6a6a" stroke-width="0.6"/>
<line x1="24.9" y1="161.68" x2="28.099999999999998" y2="161.68" stroke="#6a6a6a" stroke-width="0.6"/>
<line x1="169.8" y1="161.68" x2="166.60000000000002" y2="161.68" stroke="#6a6a6a" stroke-width="0.6"/>
<line x1="24.9" y1="155.66" x2="26.9" y2="155.66" stroke="#6a6a6a" stroke-width="0.6"/>
<line x1="169.8" y1="155.66" x2="167.8" y2="155.66" stroke="#6a6a6a" stroke-width="0.6"/>
<line x1="24.9" y1="149.64" x2="26.9" y2="149.64" stroke="#6a6a6a" stroke-width="0.6"/>
<line x1="169.8" y1="149.64" x2="167.8" y2="149.64" stroke="#6a6a6a" stroke-width="0.6"/>
<line x1="24.9" y1="143.62" x2="26.9" y2="143.62" stroke="#6a6a6a" stroke-width="0.6"/>
<line x1="169.8" y1="143.62" x2="167.8" y2="143.62" stroke="#6a6a6a" stroke-width="0.6"/>
<line x1="24.9" y1="137.60" x2="28.099999999999998" y2="137.60" stroke="#6a6a6a" stroke-width="0.6"/>
<line x1="169.8" y1="137.60" x2="166.60000000000002" y2="137.60" stroke="#6a6a6a" stroke-width="0.6"/>
<rect x="24.9" y="137.6" width="144.90" height="96.30" fill="none" stroke="#6a6a6a" stroke-width="0.8"/>
<text x="24.90" y="244.10" text-anchor="middle" font-size="8.0">5</text>
<text x="53.88" y="244.10" text-anchor="middle" font-size="8.0">10</text>
<text x="82.86" y="244.10" text-anchor="middle" font-size="8.0">15</text>
<text x="111.84" y="244.10" text-anchor="middle" font-size="8.0">20</text>
<text x="140.82" y="244.10" text-anchor="middle" font-size="8.0">25</text>
<text x="169.80" y="244.10" text-anchor="middle" font-size="8.0">30</text>
<text x="22.40" y="236.80" text-anchor="end" font-size="7.7">2</text>
<text x="22.40" y="212.72" text-anchor="end" font-size="7.7">4</text>
<text x="22.40" y="188.65" text-anchor="end" font-size="7.7">6</text>
<text x="22.40" y="164.58" text-anchor="end" font-size="7.7">8</text>
<text x="22.40" y="140.50" text-anchor="end" font-size="7.7">10</text>
<line x1="229.54" y1="137.6" x2="229.54" y2="233.9" stroke="#e2e2e2" stroke-width="0.6"/>
<line x1="258.48" y1="137.6" x2="258.48" y2="233.9" stroke="#e2e2e2" stroke-width="0.6"/>
<line x1="287.42" y1="137.6" x2="287.42" y2="233.9" stroke="#e2e2e2" stroke-width="0.6"/>
<line x1="316.36" y1="137.6" x2="316.36" y2="233.9" stroke="#e2e2e2" stroke-width="0.6"/>
<line x1="200.6" y1="214.64" x2="345.3" y2="214.64" stroke="#e2e2e2" stroke-width="0.6"/>
<line x1="200.6" y1="195.38" x2="345.3" y2="195.38" stroke="#e2e2e2" stroke-width="0.6"/>
<line x1="200.6" y1="176.12" x2="345.3" y2="176.12" stroke="#e2e2e2" stroke-width="0.6"/>
<line x1="200.6" y1="156.86" x2="345.3" y2="156.86" stroke="#e2e2e2" stroke-width="0.6"/>
<path d="M209.28,223.31 C209.89,221.38 211.61,216.41 212.93,211.75 C214.25,207.10 215.79,198.75 217.21,195.38 C218.63,192.01 219.82,192.97 221.44,191.53 C223.06,190.08 225.68,188.32 226.94,186.71 C228.19,185.11 228.33,180.94 228.96,181.90 C229.59,182.86 229.77,187.03 230.70,192.49 C231.62,197.95 233.34,210.95 234.52,214.64 C235.69,218.33 236.50,215.76 237.76,214.64 C239.01,213.52 241.00,208.86 242.04,207.90 C243.08,206.94 243.01,207.74 244.01,208.86 C245.01,209.99 246.78,212.95 248.06,214.64 C249.34,216.33 250.55,217.85 251.71,218.97 C252.87,220.10 253.57,219.70 255.01,221.38 C256.44,223.07 258.71,228.76 260.33,229.09 C261.95,229.41 263.28,225.07 264.73,223.31 C266.18,221.54 267.23,219.45 269.01,218.49 C270.80,217.53 273.63,217.53 275.44,217.53 C277.25,217.53 278.07,216.97 279.90,218.49 C281.72,220.02 284.58,227.16 286.38,226.68 C288.17,226.20 289.21,218.17 290.66,215.60 C292.11,213.03 293.60,211.67 295.06,211.27 C296.52,210.87 297.78,211.91 299.40,213.20 C301.02,214.48 302.97,219.13 304.78,218.97 C306.60,218.81 308.64,213.20 310.28,212.23 C311.92,211.27 313.36,213.60 314.62,213.20 C315.89,212.79 316.61,211.19 317.86,209.82 C319.12,208.46 320.88,205.17 322.15,205.01 C323.41,204.85 324.17,207.74 325.45,208.86 C326.72,209.99 328.17,212.79 329.79,211.75 C331.41,210.71 333.55,205.01 335.17,202.60 C336.79,200.19 338.06,198.83 339.51,197.31 C340.97,195.78 342.95,194.18 343.91,193.45 C344.88,192.73 345.07,193.05 345.30,192.97" fill="none" stroke="#f8c890" stroke-width="1.5" stroke-linejoin="round" stroke-linecap="butt"/>
<path d="M208.12,195.38 C208.51,193.78 209.64,189.01 210.44,185.75 C211.24,182.49 212.16,176.63 212.93,175.83 C213.70,175.03 213.99,177.32 215.07,180.94 C216.15,184.55 218.25,195.09 219.41,197.50 C220.57,199.91 220.76,199.34 222.02,195.38 C223.27,191.42 225.39,178.05 226.94,173.71 C228.48,169.38 229.83,171.35 231.28,169.38 C232.72,167.40 234.36,161.15 235.62,161.87 C236.87,162.59 237.69,171.50 238.80,173.71 C239.91,175.93 241.02,172.83 242.27,175.16 C243.53,177.48 245.10,183.76 246.33,187.68 C247.55,191.59 248.66,197.53 249.62,198.65 C250.59,199.78 251.04,198.03 252.11,194.42 C253.18,190.81 254.68,180.44 256.05,176.99 C257.42,173.54 258.89,175.33 260.33,173.71 C261.78,172.09 263.28,166.22 264.73,167.26 C266.18,168.30 267.76,175.25 269.01,179.97 C270.27,184.69 271.31,193.81 272.26,195.57 C273.20,197.34 273.61,194.71 274.69,190.56 C275.77,186.42 277.16,172.59 278.74,170.73 C280.32,168.87 282.54,179.75 284.18,179.39 C285.82,179.04 287.27,168.51 288.58,168.61 C289.89,168.70 290.80,175.67 292.05,179.97 C293.30,184.27 294.88,192.65 296.10,194.42 C297.33,196.18 298.15,190.56 299.40,190.56 C300.66,190.56 302.18,196.46 303.63,194.42 C305.07,192.38 306.93,181.22 308.08,178.33 C309.24,175.45 309.31,177.45 310.57,177.08 C311.84,176.71 313.93,175.37 315.67,176.12 C317.40,176.87 319.43,181.93 320.99,181.61 C322.55,181.29 323.76,177.29 325.04,174.19 C326.33,171.10 327.63,163.34 328.69,163.02 C329.75,162.70 330.33,168.43 331.41,172.27 C332.49,176.10 334.18,183.57 335.17,186.04 C336.16,188.51 337.00,186.92 337.37,187.10" fill="none" stroke="#6088c8" stroke-width="0.95" stroke-dasharray="1.0 0.8" stroke-linejoin="round" stroke-linecap="butt"/>
<path d="M208.59,224.46 C209.31,222.14 211.49,215.89 212.93,210.50 C214.37,205.11 216.13,195.70 217.21,192.11 C218.29,188.51 218.32,189.83 219.41,188.93 C220.50,188.03 222.50,187.44 223.75,186.71 C225.01,185.99 226.04,186.04 226.94,184.59 C227.83,183.15 228.51,177.21 229.13,178.05 C229.76,178.88 229.80,183.65 230.70,189.60 C231.59,195.56 233.34,209.74 234.52,213.77 C235.69,217.80 236.50,215.04 237.76,213.77 C239.01,212.51 241.00,207.14 242.04,206.17 C243.08,205.19 243.01,206.65 244.01,207.90 C245.01,209.15 246.78,211.98 248.06,213.68 C249.34,215.38 250.55,216.98 251.71,218.11 C252.87,219.23 253.57,218.64 255.01,220.42 C256.44,222.20 258.71,228.48 260.33,228.80 C261.95,229.12 263.28,224.32 264.73,222.34 C266.18,220.37 268.13,217.26 269.01,216.95 C269.90,216.65 268.99,220.64 270.06,220.51 C271.13,220.39 273.80,216.73 275.44,216.18 C277.08,215.64 278.07,215.43 279.90,217.24 C281.72,219.05 284.58,227.61 286.38,227.06 C288.17,226.52 289.21,216.87 290.66,213.97 C292.11,211.06 293.60,209.99 295.06,209.63 C296.52,209.28 297.78,210.39 299.40,211.85 C301.02,213.31 302.97,218.57 304.78,218.40 C306.60,218.22 308.64,211.88 310.28,210.79 C311.92,209.70 313.36,212.22 314.62,211.85 C315.89,211.48 316.61,210.21 317.86,208.57 C319.12,206.94 320.88,202.22 322.15,202.02 C323.41,201.83 324.17,205.96 325.45,207.42 C326.72,208.88 328.17,211.86 329.79,210.79 C331.41,209.71 333.55,203.50 335.17,200.97 C336.79,198.43 338.06,197.03 339.51,195.57 C340.97,194.11 342.95,192.88 343.91,192.20 C344.88,191.53 345.07,191.64 345.30,191.53" fill="none" stroke="#b3303f" stroke-width="1.25" stroke-dasharray="2.2 2.4" stroke-linejoin="round" stroke-linecap="butt"/>
<path d="M208.12,193.45 C208.41,191.85 209.06,188.16 209.86,183.82 C210.66,179.49 211.98,170.58 212.93,167.45 C213.87,164.32 214.64,162.96 215.53,165.05 C216.43,167.13 217.66,175.64 218.31,179.97 C218.96,184.31 218.89,189.44 219.41,191.05 C219.93,192.65 220.54,191.45 221.44,189.60 C222.33,187.76 223.69,184.39 224.79,179.97 C225.89,175.56 226.78,167.77 228.04,163.12 C229.29,158.47 231.05,154.60 232.32,152.05 C233.58,149.49 234.54,147.62 235.62,147.81 C236.70,148.00 237.90,150.15 238.80,153.20 C239.70,156.25 240.32,164.05 241.00,166.10 C241.68,168.16 241.96,163.18 242.85,165.53 C243.74,167.87 245.20,175.19 246.33,180.16 C247.45,185.14 248.66,193.65 249.62,195.38 C250.59,197.11 251.04,194.53 252.11,190.56 C253.18,186.60 254.84,176.01 256.05,171.59 C257.25,167.18 258.27,165.53 259.35,164.08 C260.43,162.64 261.46,164.39 262.53,162.93 C263.60,161.47 264.69,153.87 265.77,155.32 C266.85,156.76 268.20,167.00 269.01,171.59 C269.82,176.18 270.09,179.43 270.63,182.86 C271.18,186.30 271.68,191.40 272.26,192.20 C272.83,193.00 273.32,191.32 274.11,187.68 C274.90,184.03 276.04,175.53 277.00,170.34 C277.97,165.16 279.07,158.14 279.90,156.57 C280.73,155.00 281.08,158.72 281.98,160.90 C282.88,163.09 284.01,170.57 285.28,169.67 C286.54,168.77 288.30,155.51 289.56,155.51 C290.83,155.51 291.77,163.68 292.86,169.67 C293.95,175.65 295.01,188.59 296.10,191.43 C297.19,194.27 298.15,186.76 299.40,186.71 C300.66,186.66 302.18,194.35 303.63,191.14 C305.07,187.93 306.97,171.95 308.08,167.45 C309.19,162.96 309.58,163.63 310.28,164.18 C310.99,164.72 311.41,170.55 312.31,170.73 C313.21,170.90 314.22,165.06 315.67,165.24 C317.11,165.41 319.36,171.79 320.99,171.79 C322.62,171.79 324.16,168.87 325.45,165.24 C326.73,161.61 327.79,152.74 328.69,150.02 C329.59,147.31 329.75,145.69 330.83,148.96 C331.91,152.24 334.08,164.42 335.17,169.67 C336.26,174.92 337.00,178.66 337.37,180.45" fill="none" stroke="#555555" stroke-width="1.1" stroke-linejoin="round" stroke-linecap="butt"/>

<line x1="200.60" y1="233.9" x2="200.60" y2="230.70000000000002" stroke="#6a6a6a" stroke-width="0.6"/>
<line x1="200.60" y1="137.6" x2="200.60" y2="140.79999999999998" stroke="#6a6a6a" stroke-width="0.6"/>
<line x1="206.39" y1="233.9" x2="206.39" y2="231.9" stroke="#6a6a6a" stroke-width="0.6"/>
<line x1="206.39" y1="137.6" x2="206.39" y2="139.6" stroke="#6a6a6a" stroke-width="0.6"/>
<line x1="212.18" y1="233.9" x2="212.18" y2="231.9" stroke="#6a6a6a" stroke-width="0.6"/>
<line x1="212.18" y1="137.6" x2="212.18" y2="139.6" stroke="#6a6a6a" stroke-width="0.6"/>
<line x1="217.96" y1="233.9" x2="217.96" y2="231.9" stroke="#6a6a6a" stroke-width="0.6"/>
<line x1="217.96" y1="137.6" x2="217.96" y2="139.6" stroke="#6a6a6a" stroke-width="0.6"/>
<line x1="223.75" y1="233.9" x2="223.75" y2="231.9" stroke="#6a6a6a" stroke-width="0.6"/>
<line x1="223.75" y1="137.6" x2="223.75" y2="139.6" stroke="#6a6a6a" stroke-width="0.6"/>
<line x1="229.54" y1="233.9" x2="229.54" y2="230.70000000000002" stroke="#6a6a6a" stroke-width="0.6"/>
<line x1="229.54" y1="137.6" x2="229.54" y2="140.79999999999998" stroke="#6a6a6a" stroke-width="0.6"/>
<line x1="235.33" y1="233.9" x2="235.33" y2="231.9" stroke="#6a6a6a" stroke-width="0.6"/>
<line x1="235.33" y1="137.6" x2="235.33" y2="139.6" stroke="#6a6a6a" stroke-width="0.6"/>
<line x1="241.12" y1="233.9" x2="241.12" y2="231.9" stroke="#6a6a6a" stroke-width="0.6"/>
<line x1="241.12" y1="137.6" x2="241.12" y2="139.6" stroke="#6a6a6a" stroke-width="0.6"/>
<line x1="246.90" y1="233.9" x2="246.90" y2="231.9" stroke="#6a6a6a" stroke-width="0.6"/>
<line x1="246.90" y1="137.6" x2="246.90" y2="139.6" stroke="#6a6a6a" stroke-width="0.6"/>
<line x1="252.69" y1="233.9" x2="252.69" y2="231.9" stroke="#6a6a6a" stroke-width="0.6"/>
<line x1="252.69" y1="137.6" x2="252.69" y2="139.6" stroke="#6a6a6a" stroke-width="0.6"/>
<line x1="258.48" y1="233.9" x2="258.48" y2="230.70000000000002" stroke="#6a6a6a" stroke-width="0.6"/>
<line x1="258.48" y1="137.6" x2="258.48" y2="140.79999999999998" stroke="#6a6a6a" stroke-width="0.6"/>
<line x1="264.27" y1="233.9" x2="264.27" y2="231.9" stroke="#6a6a6a" stroke-width="0.6"/>
<line x1="264.27" y1="137.6" x2="264.27" y2="139.6" stroke="#6a6a6a" stroke-width="0.6"/>
<line x1="270.06" y1="233.9" x2="270.06" y2="231.9" stroke="#6a6a6a" stroke-width="0.6"/>
<line x1="270.06" y1="137.6" x2="270.06" y2="139.6" stroke="#6a6a6a" stroke-width="0.6"/>
<line x1="275.84" y1="233.9" x2="275.84" y2="231.9" stroke="#6a6a6a" stroke-width="0.6"/>
<line x1="275.84" y1="137.6" x2="275.84" y2="139.6" stroke="#6a6a6a" stroke-width="0.6"/>
<line x1="281.63" y1="233.9" x2="281.63" y2="231.9" stroke="#6a6a6a" stroke-width="0.6"/>
<line x1="281.63" y1="137.6" x2="281.63" y2="139.6" stroke="#6a6a6a" stroke-width="0.6"/>
<line x1="287.42" y1="233.9" x2="287.42" y2="230.70000000000002" stroke="#6a6a6a" stroke-width="0.6"/>
<line x1="287.42" y1="137.6" x2="287.42" y2="140.79999999999998" stroke="#6a6a6a" stroke-width="0.6"/>
<line x1="293.21" y1="233.9" x2="293.21" y2="231.9" stroke="#6a6a6a" stroke-width="0.6"/>
<line x1="293.21" y1="137.6" x2="293.21" y2="139.6" stroke="#6a6a6a" stroke-width="0.6"/>
<line x1="299.00" y1="233.9" x2="299.00" y2="231.9" stroke="#6a6a6a" stroke-width="0.6"/>
<line x1="299.00" y1="137.6" x2="299.00" y2="139.6" stroke="#6a6a6a" stroke-width="0.6"/>
<line x1="304.78" y1="233.9" x2="304.78" y2="231.9" stroke="#6a6a6a" stroke-width="0.6"/>
<line x1="304.78" y1="137.6" x2="304.78" y2="139.6" stroke="#6a6a6a" stroke-width="0.6"/>
<line x1="310.57" y1="233.9" x2="310.57" y2="231.9" stroke="#6a6a6a" stroke-width="0.6"/>
<line x1="310.57" y1="137.6" x2="310.57" y2="139.6" stroke="#6a6a6a" stroke-width="0.6"/>
<line x1="316.36" y1="233.9" x2="316.36" y2="230.70000000000002" stroke="#6a6a6a" stroke-width="0.6"/>
<line x1="316.36" y1="137.6" x2="316.36" y2="140.79999999999998" stroke="#6a6a6a" stroke-width="0.6"/>
<line x1="322.15" y1="233.9" x2="322.15" y2="231.9" stroke="#6a6a6a" stroke-width="0.6"/>
<line x1="322.15" y1="137.6" x2="322.15" y2="139.6" stroke="#6a6a6a" stroke-width="0.6"/>
<line x1="327.94" y1="233.9" x2="327.94" y2="231.9" stroke="#6a6a6a" stroke-width="0.6"/>
<line x1="327.94" y1="137.6" x2="327.94" y2="139.6" stroke="#6a6a6a" stroke-width="0.6"/>
<line x1="333.72" y1="233.9" x2="333.72" y2="231.9" stroke="#6a6a6a" stroke-width="0.6"/>
<line x1="333.72" y1="137.6" x2="333.72" y2="139.6" stroke="#6a6a6a" stroke-width="0.6"/>
<line x1="339.51" y1="233.9" x2="339.51" y2="231.9" stroke="#6a6a6a" stroke-width="0.6"/>
<line x1="339.51" y1="137.6" x2="339.51" y2="139.6" stroke="#6a6a6a" stroke-width="0.6"/>
<line x1="345.30" y1="233.9" x2="345.30" y2="230.70000000000002" stroke="#6a6a6a" stroke-width="0.6"/>
<line x1="345.30" y1="137.6" x2="345.30" y2="140.79999999999998" stroke="#6a6a6a" stroke-width="0.6"/>
<line x1="200.6" y1="233.90" x2="203.79999999999998" y2="233.90" stroke="#6a6a6a" stroke-width="0.6"/>
<line x1="345.3" y1="233.90" x2="342.1" y2="233.90" stroke="#6a6a6a" stroke-width="0.6"/>
<line x1="200.6" y1="229.09" x2="202.6" y2="229.09" stroke="#6a6a6a" stroke-width="0.6"/>
<line x1="345.3" y1="229.09" x2="343.3" y2="229.09" stroke="#6a6a6a" stroke-width="0.6"/>
<line x1="200.6" y1="224.27" x2="202.6" y2="224.27" stroke="#6a6a6a" stroke-width="0.6"/>
<line x1="345.3" y1="224.27" x2="343.3" y2="224.27" stroke="#6a6a6a" stroke-width="0.6"/>
<line x1="200.6" y1="219.46" x2="202.6" y2="219.46" stroke="#6a6a6a" stroke-width="0.6"/>
<line x1="345.3" y1="219.46" x2="343.3" y2="219.46" stroke="#6a6a6a" stroke-width="0.6"/>
<line x1="200.6" y1="214.64" x2="203.79999999999998" y2="214.64" stroke="#6a6a6a" stroke-width="0.6"/>
<line x1="345.3" y1="214.64" x2="342.1" y2="214.64" stroke="#6a6a6a" stroke-width="0.6"/>
<line x1="200.6" y1="209.82" x2="202.6" y2="209.82" stroke="#6a6a6a" stroke-width="0.6"/>
<line x1="345.3" y1="209.82" x2="343.3" y2="209.82" stroke="#6a6a6a" stroke-width="0.6"/>
<line x1="200.6" y1="205.01" x2="202.6" y2="205.01" stroke="#6a6a6a" stroke-width="0.6"/>
<line x1="345.3" y1="205.01" x2="343.3" y2="205.01" stroke="#6a6a6a" stroke-width="0.6"/>
<line x1="200.6" y1="200.19" x2="202.6" y2="200.19" stroke="#6a6a6a" stroke-width="0.6"/>
<line x1="345.3" y1="200.19" x2="343.3" y2="200.19" stroke="#6a6a6a" stroke-width="0.6"/>
<line x1="200.6" y1="195.38" x2="203.79999999999998" y2="195.38" stroke="#6a6a6a" stroke-width="0.6"/>
<line x1="345.3" y1="195.38" x2="342.1" y2="195.38" stroke="#6a6a6a" stroke-width="0.6"/>
<line x1="200.6" y1="190.56" x2="202.6" y2="190.56" stroke="#6a6a6a" stroke-width="0.6"/>
<line x1="345.3" y1="190.56" x2="343.3" y2="190.56" stroke="#6a6a6a" stroke-width="0.6"/>
<line x1="200.6" y1="185.75" x2="202.6" y2="185.75" stroke="#6a6a6a" stroke-width="0.6"/>
<line x1="345.3" y1="185.75" x2="343.3" y2="185.75" stroke="#6a6a6a" stroke-width="0.6"/>
<line x1="200.6" y1="180.94" x2="202.6" y2="180.94" stroke="#6a6a6a" stroke-width="0.6"/>
<line x1="345.3" y1="180.94" x2="343.3" y2="180.94" stroke="#6a6a6a" stroke-width="0.6"/>
<line x1="200.6" y1="176.12" x2="203.79999999999998" y2="176.12" stroke="#6a6a6a" stroke-width="0.6"/>
<line x1="345.3" y1="176.12" x2="342.1" y2="176.12" stroke="#6a6a6a" stroke-width="0.6"/>
<line x1="200.6" y1="171.31" x2="202.6" y2="171.31" stroke="#6a6a6a" stroke-width="0.6"/>
<line x1="345.3" y1="171.31" x2="343.3" y2="171.31" stroke="#6a6a6a" stroke-width="0.6"/>
<line x1="200.6" y1="166.49" x2="202.6" y2="166.49" stroke="#6a6a6a" stroke-width="0.6"/>
<line x1="345.3" y1="166.49" x2="343.3" y2="166.49" stroke="#6a6a6a" stroke-width="0.6"/>
<line x1="200.6" y1="161.68" x2="202.6" y2="161.68" stroke="#6a6a6a" stroke-width="0.6"/>
<line x1="345.3" y1="161.68" x2="343.3" y2="161.68" stroke="#6a6a6a" stroke-width="0.6"/>
<line x1="200.6" y1="156.86" x2="203.79999999999998" y2="156.86" stroke="#6a6a6a" stroke-width="0.6"/>
<line x1="345.3" y1="156.86" x2="342.1" y2="156.86" stroke="#6a6a6a" stroke-width="0.6"/>
<line x1="200.6" y1="152.05" x2="202.6" y2="152.05" stroke="#6a6a6a" stroke-width="0.6"/>
<line x1="345.3" y1="152.05" x2="343.3" y2="152.05" stroke="#6a6a6a" stroke-width="0.6"/>
<line x1="200.6" y1="147.23" x2="202.6" y2="147.23" stroke="#6a6a6a" stroke-width="0.6"/>
<line x1="345.3" y1="147.23" x2="343.3" y2="147.23" stroke="#6a6a6a" stroke-width="0.6"/>
<line x1="200.6" y1="142.42" x2="202.6" y2="142.42" stroke="#6a6a6a" stroke-width="0.6"/>
<line x1="345.3" y1="142.42" x2="343.3" y2="142.42" stroke="#6a6a6a" stroke-width="0.6"/>
<line x1="200.6" y1="137.60" x2="203.79999999999998" y2="137.60" stroke="#6a6a6a" stroke-width="0.6"/>
<line x1="345.3" y1="137.60" x2="342.1" y2="137.60" stroke="#6a6a6a" stroke-width="0.6"/>
<rect x="200.6" y="137.6" width="144.70" height="96.30" fill="none" stroke="#6a6a6a" stroke-width="0.8"/>
<text x="200.60" y="244.10" text-anchor="middle" font-size="8.0">5</text>
<text x="229.54" y="244.10" text-anchor="middle" font-size="8.0">10</text>
<text x="258.48" y="244.10" text-anchor="middle" font-size="8.0">15</text>
<text x="287.42" y="244.10" text-anchor="middle" font-size="8.0">20</text>
<text x="316.36" y="244.10" text-anchor="middle" font-size="8.0">25</text>
<text x="345.30" y="244.10" text-anchor="middle" font-size="8.0">30</text>
<text x="198.10" y="236.80" text-anchor="end" font-size="7.7">2</text>
<text x="198.10" y="217.54" text-anchor="end" font-size="7.7">4</text>
<text x="198.10" y="198.28" text-anchor="end" font-size="7.7">6</text>
<text x="198.10" y="179.02" text-anchor="end" font-size="7.7">8</text>
<text x="198.10" y="159.76" text-anchor="end" font-size="7.7">10</text>
<text x="198.10" y="140.50" text-anchor="end" font-size="7.7">12</text>
<text x="0.6" y="7.9" font-size="9" font-style="italic">(a)</text>
<text x="177.4" y="7.9" font-size="9" font-style="italic">(b)</text>
<text x="1.2" y="133.6" font-size="9" font-style="italic">(c)</text>
<text x="177.6" y="134.4" font-size="9" font-style="italic">(d)</text>
<text transform="translate(7.4,54.6) rotate(-90)" text-anchor="middle" font-size="9">Flame surface area</text>
<text transform="translate(7.4,185.2) rotate(-90)" text-anchor="middle" font-size="9">Flame surface area</text>
<text x="93.2" y="256.4" text-anchor="middle" font-size="9.1">Normalized time</text>
<text x="276.4" y="256.4" text-anchor="middle" font-size="9.1">Normalized time</text>

</svg></body></html>
